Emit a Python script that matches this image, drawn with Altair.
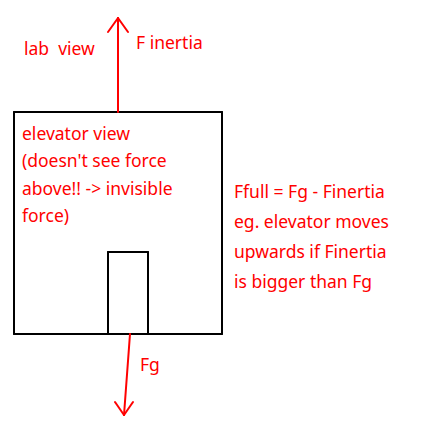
import pandas as pd
import altair as alt

# line segments of the sketch (x1, y1, x2, y2) in picture pixels, y downward
seg_x1 = [14, 222, 222, 14, 108, 148, 108, 118, 108, 128, 130, 115, 133]
seg_y1 = [112, 112, 334, 334, 334, 252, 252, 112, 32, 32, 334, 402, 402]
seg_x2 = [222, 222, 14, 14, 108, 148, 148, 118, 118, 118, 124, 124, 124]
seg_y2 = [112, 334, 334, 112, 252, 334, 252, 18, 18, 18, 415, 415, 415]
seg_col = ["black"] * 7 + ["red"] * 6

# labels
labels = ["lab\u00a0\u00a0view", "F inertia", "elevator view", "(doesn't see force",
          "above!! -> invisible", "force)", "Ffull = Fg - Finertia",
          "eg. elevator moves", "upwards if Finertia", "is bigger than Fg", "Fg"]
label_x = [24, 136, 22, 22, 22, 22, 234, 234, 234, 234, 140]
label_y = [50, 44, 135, 162, 190, 217, 193, 223, 253, 283, 366]

segs = pd.DataFrame({"x": seg_x1, "y": seg_y1, "x2": seg_x2, "y2": seg_y2, "c": seg_col})
texts = pd.DataFrame({"t": labels, "x": label_x, "y": label_y})

xs = alt.Scale(domain=[8, 433], nice=False, zero=False)
ys = alt.Scale(domain=[8, 423], nice=False, zero=False, reverse=True)

lines = alt.Chart(segs).mark_rule(strokeWidth=2, strokeCap="round").encode(
    x=alt.X("x:Q", scale=xs, axis=None),
    y=alt.Y("y:Q", scale=ys, axis=None),
    x2="x2", y2="y2",
    color=alt.Color("c:N", scale=None),
)

words = alt.Chart(texts).mark_text(
    align="left", baseline="middle", font="Noto Sans", fontSize=17.5, color="red"
).encode(
    x=alt.X("x:Q", scale=xs),
    y=alt.Y("y:Q", scale=ys),
    text="t:N",
)

chart = (lines + words).properties(
    width=425, height=415, padding=0, autosize="none", background="white"
).configure_view(stroke=None)

chart.save("out.html", embed_options={"renderer": "svg", "actions": False})
